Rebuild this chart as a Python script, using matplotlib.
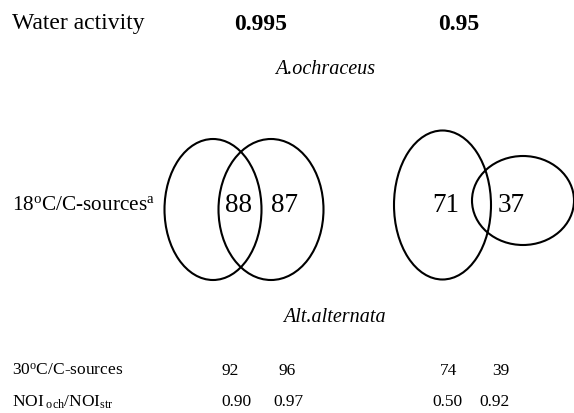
import matplotlib.pyplot as plt
from matplotlib.patches import Ellipse

plt.rcParams['font.family'] = 'Liberation Serif'
plt.rcParams['mathtext.fontset'] = 'custom'
plt.rcParams['mathtext.rm'] = 'Liberation Serif'
plt.rcParams['mathtext.it'] = 'Liberation Serif:italic'

water_activity = ['0.995', '0.95']
ochraceus_18c = [88, 87, 71, 37]
alternata_30c = [92, 96, 74, 39]
noi_ratio = [0.90, 0.97, 0.50, 0.92]

# pixel layout (y grows downwards)
aw_x = [261, 459]
venn_x = [239, 285, 446, 511]
alt_x = [230, 287, 449, 501]
noi_x = [236, 288, 447, 495]
ellipses = [((213, 209.5), 97, 141), ((271, 209.5), 105, 141),
            ((442.5, 205), 97, 149), ((523, 200.5), 102, 89)]

fig = plt.figure(figsize=(5.74, 4.13), dpi=100)
ax = fig.add_axes([0, 0, 1, 1])
ax.set_xlim(0, 574)
ax.set_ylim(413, 0)
ax.axis('off')

ax.text(12, 24, 'Water activity', fontsize=17, va='center')
for x, lab in zip(aw_x, water_activity):
    ax.text(x, 24, lab, fontsize=17, fontweight='bold', ha='center', va='center')

ax.text(325, 70, 'A.ochraceus', fontsize=14.5, style='italic', ha='center', va='center')

for (xy, w, h) in ellipses:
    ax.add_patch(Ellipse(xy, w, h, fill=False, lw=1.5, ec='black'))

ax.text(12, 205, r'18$^{\rm o}$C/C-sources$^{\rm a}$', fontsize=15.3, va='center')
for x, v in zip(venn_x, ochraceus_18c):
    ax.text(x, 205, str(v), fontsize=19.5, ha='center', va='center')

ax.text(334, 317, 'Alt.alternata', fontsize=14.5, style='italic', ha='center', va='center')

ax.text(12, 371, r'30$^{\rm o}$C/C-sources', fontsize=12.5, va='center')
for x, v in zip(alt_x, alternata_30c):
    ax.text(x, 371, str(v), fontsize=12.5, ha='center', va='center')

ax.text(12, 402, r'NOI$_{\rm \ och}$/NOI$_{\rm str}$', fontsize=12.5, va='center')
for x, v in zip(noi_x, noi_ratio):
    ax.text(x, 402, f'{v:.2f}', fontsize=12.5, ha='center', va='center')

fig.savefig('out.png', dpi=100)
